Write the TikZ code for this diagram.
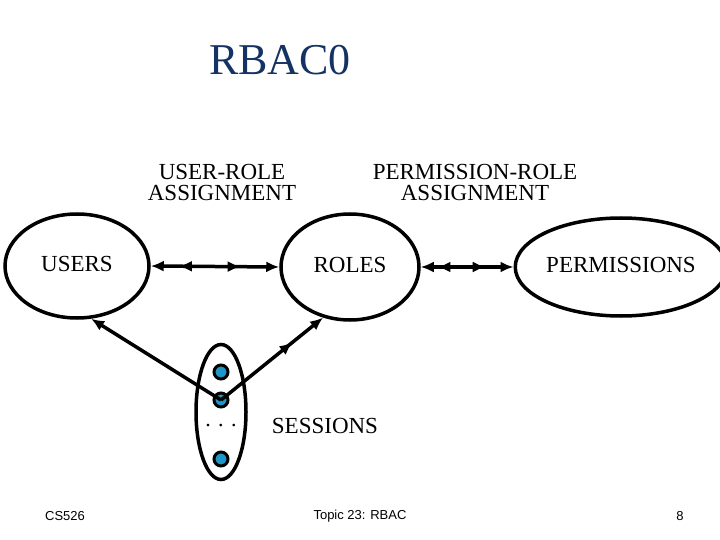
\documentclass[tikz,border=0pt]{standalone}
\usepackage{fontspec}
\setmainfont{Liberation Serif}
\newfontfamily\sansf{Liberation Sans}
\usetikzlibrary{arrows.meta,decorations.markings,shapes.geometric}
\definecolor{titleblue}{RGB}{20,50,100}
\definecolor{dotblue}{RGB}{30,150,200}
\begin{document}
\begin{tikzpicture}[x=1pt,y=-1pt,
  lbl/.style={font=\fontsize{23}{25}\selectfont,align=center},
  ell/.style={draw,line width=3.5pt,ellipse,inner sep=0pt,lbl},
  tip/.style={-{Latex[length=13pt,width=11pt]}},
  dbl/.style={line width=3.5pt,{Latex[length=13pt,width=11pt]}-{Latex[length=13pt,width=11pt]},
    postaction={decorate},decoration={markings,
      mark=at position 0.32 with {\arrow{Latex[reversed,length=13pt,width=11pt]}},
      mark=at position 0.7 with {\arrow{Latex[length=13pt,width=11pt]}}}},
  dot/.style={circle,fill=dotblue,draw=black,line width=3pt,minimum size=14pt,inner sep=0pt},
  foot/.style={font=\sansf\fontsize{13}{15}\selectfont}]
\useasboundingbox (0,0) rectangle (720,540);
\node[font=\fontsize{44}{46}\selectfont,text=titleblue] (title) at (280,60) {RBAC0};
\node[lbl] (ura) at (222,182) {USER-ROLE\\[-4pt]ASSIGNMENT};
\node[lbl] (pra) at (475,182) {PERMISSION-ROLE\\[-4pt]ASSIGNMENT};
\node[ell,minimum width=144pt,minimum height=104pt] (users) at (77,266) {USERS\strut};
\node[ell,minimum width=138pt,minimum height=106pt] (roles) at (350,267) {ROLES\strut};
\node[ell,minimum width=172pt,minimum height=98pt] (perms) at (621,267) {PERMISSIONS\strut};
\node[draw,line width=3.5pt,ellipse,minimum width=50pt,minimum height=135pt] (sess) at (221,412) {};
\node[dot] (d1) at (221,372) {};
\node[dot] (d2) at (221,400) {};
\node[dot] (d3) at (221,459) {};
\node[font=\fontsize{22}{24}\selectfont] (dots) at (221,426) {. . .};
\node[lbl] (slbl) at (325,426) {SESSIONS};
\draw[dbl] (users.east) -- (roles.west);
\draw[dbl] (roles.east) -- (perms.west);
\draw[line width=3.5pt,tip] (d2.center) -- (users.-75);
\draw[line width=3.5pt,tip,postaction={decorate},decoration={markings,mark=at position 0.7 with {\arrow{Latex[length=13pt,width=11pt]}}}] (d2.center) -- (roles.-118);
\node[foot] (cs) at (65,516) {CS526};
\node[foot] (topic) at (360,516) {Topic 23: RBAC};
\node[foot] (pg) at (680,516) {8};
\end{tikzpicture}
\end{document}
